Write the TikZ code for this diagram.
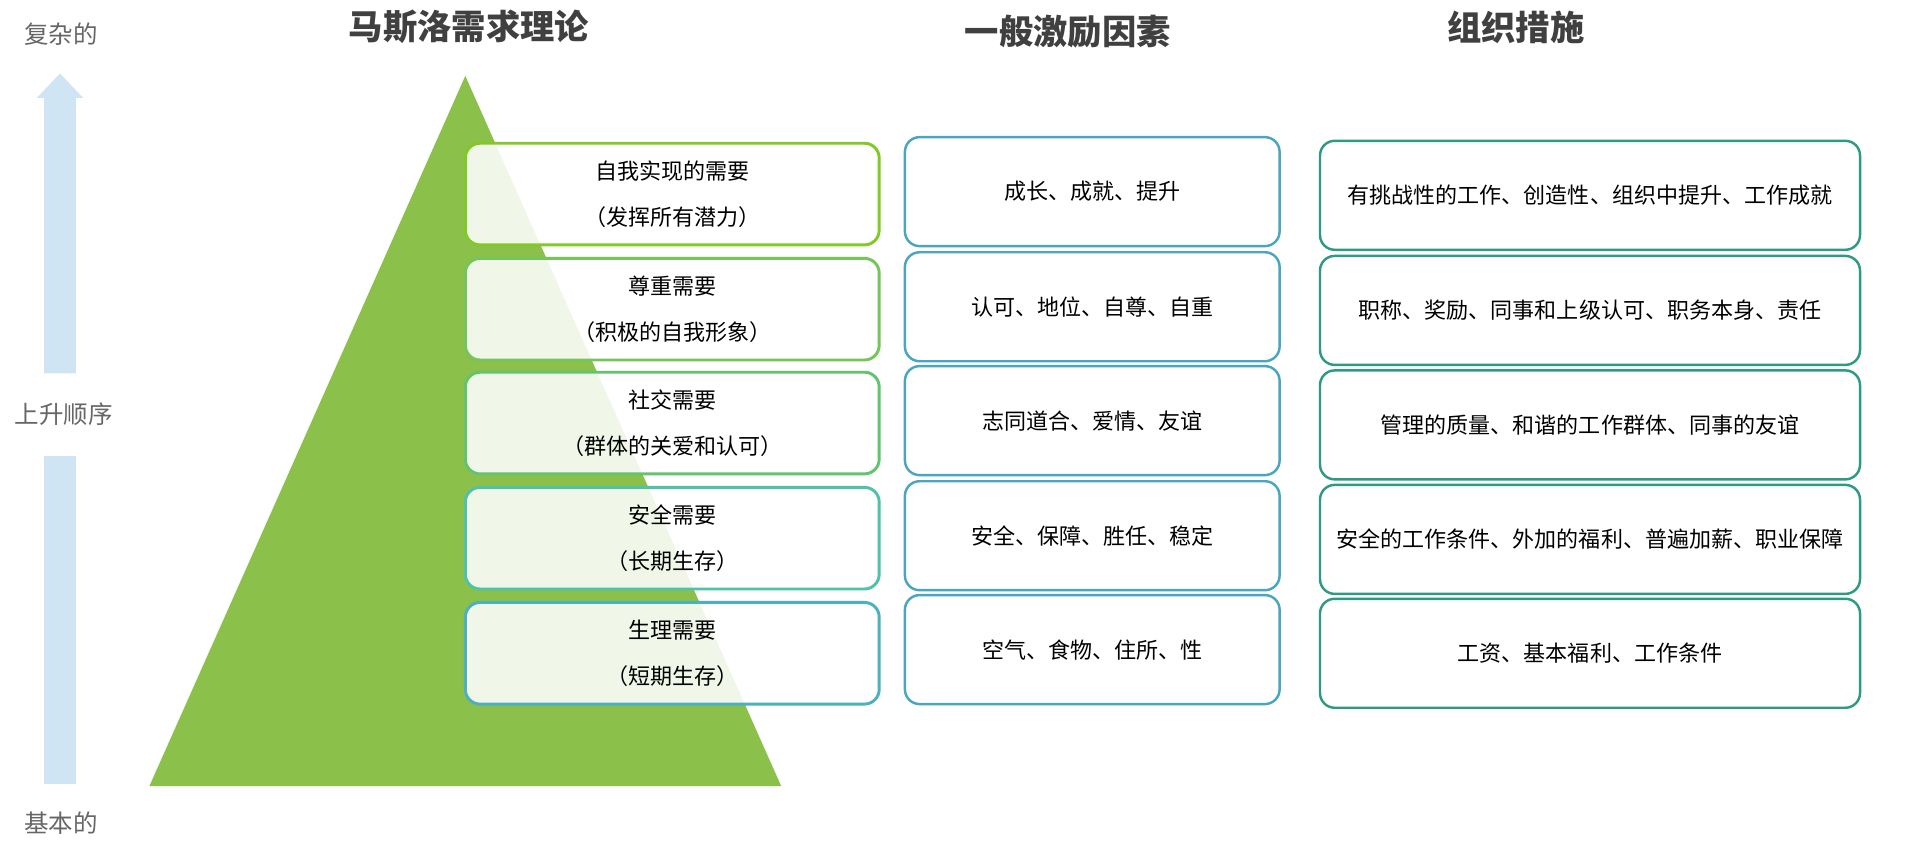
\documentclass[tikz,border=0pt]{standalone}
\usepackage{fontspec}
\setmainfont{Noto Sans CJK SC}
\definecolor{pyrgreen}{HTML}{8BC14A}
\definecolor{arrowblue}{HTML}{CFE5F4}
\definecolor{motblue}{HTML}{4AA5BE}
\definecolor{orgteal}{HTML}{2E9A84}
\begin{document}
\begin{tikzpicture}[x=0.5pt,y=-0.5pt,
    needbox/.style={rectangle, draw, line width=1.2pt, rounded corners=6pt, fill=white, fill opacity=0.88, text opacity=1, minimum width=338*0.5pt, minimum height=83*0.5pt, align=center, font=\fontsize{9}{19}\selectfont},
    motbox/.style={rectangle, draw=motblue, line width=1pt, rounded corners=6pt, minimum width=306*0.5pt, minimum height=89*0.5pt, align=center, font=\fontsize{9}{12}\selectfont},
    orgbox/.style={rectangle, draw=orgteal, line width=1pt, rounded corners=6pt, minimum width=441*0.5pt, minimum height=89*0.5pt, text width=210pt, align=center, font=\fontsize{9}{13}\selectfont},
    title/.style={font=\fontsize{14}{16}\selectfont\bfseries, text=black!75},
    side/.style={font=\fontsize{10}{12}\selectfont, text=black!60}
]
    \useasboundingbox (0,0) rectangle (1568,700);

    % ascending arrow
    \fill[arrowblue] (36,640) -- (36,372) -- (62,372) -- (62,640) -- cycle;
    \fill[arrowblue] (36,305) -- (36,80) -- (30,80) -- (49,60) -- (68,80) -- (62,80) -- (62,305) -- cycle;
    \node[side] (top) at (50,28) {复杂的};
    \node[side] (mid) at (52,338) {上升顺序};
    \node[side] (low) at (50,672) {基本的};

    % pyramid
    \fill[pyrgreen] (380,62) -- (638,642) -- (122,642) -- cycle;

    % titles
    \node[title] (t-need) at (383,22) {马斯洛需求理论};
    \node[title] (t-mot) at (872,26) {一般激励因素};
    \node[title] (t-org) at (1238,22) {组织措施};

    % needs
    \node[needbox, draw=green!45!yellow!75!black!85] (n5) at (549,158.5) {自我实现的需要\\（发挥所有潜力）};
    \node[needbox, draw={rgb,255:red,118;green,196;blue,92}] (n4) at (549,252.5) {尊重需要\\（积极的自我形象）};
    \node[needbox, draw={rgb,255:red,98;green,196;blue,110}] (n3) at (549,345.5) {社交需要\\（群体的关爱和认可）};
    \node[needbox, draw={rgb,255:red,80;green,194;blue,168}] (n2) at (549,439.5) {安全需要\\（长期生存）};
    \node[needbox, draw={rgb,255:red,76;green,176;blue,190}] (n1) at (549,533.5) {生理需要\\（短期生存）};

    % motivators
    \node[motbox] (m5) at (892,156.5) {成长、成就、提升};
    \node[motbox] (m4) at (892,250.5) {认可、地位、自尊、自重};
    \node[motbox] (m3) at (892,343.5) {志同道合、爱情、友谊};
    \node[motbox] (m2) at (892,437.5) {安全、保障、胜任、稳定};
    \node[motbox] (m1) at (892,530.5) {空气、食物、住所、性};

    % organisation
    \node[orgbox] (o5) at (1298.5,159.5) {有挑战性的工作、创造性、组织中提升、工作成就};
    \node[orgbox] (o4) at (1298.5,253.5) {职称、奖励、同事和上级认可、职务本身、责任};
    \node[orgbox] (o3) at (1298.5,347) {管理的质量、和谐的工作群体、同事的友谊};
    \node[orgbox] (o2) at (1298.5,440.5) {安全的工作条件、外加的福利、普遍加薪、职业保障};
    \node[orgbox] (o1) at (1298.5,533.5) {工资、基本福利、工作条件};
\end{tikzpicture}
\end{document}
